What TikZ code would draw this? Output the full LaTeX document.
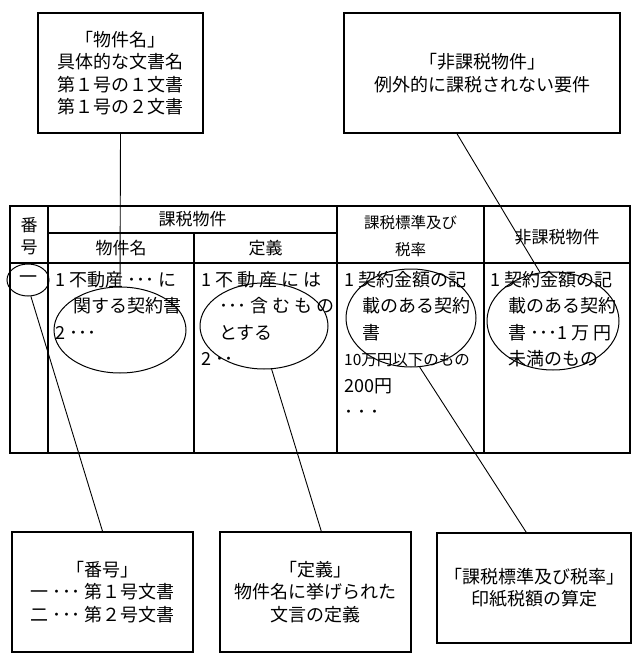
\documentclass[tikz,border=0pt]{standalone}
\usepackage{fontspec}
\setmainfont{Noto Sans CJK JP}
\usepackage{tikz}
\usetikzlibrary{shapes, calc}
\tikzstyle{NoteBox}=[rectangle,
		line width=1.6pt,
		draw=black,
		inner sep=0pt,
		align=center,
		font=\fontsize{18}{22.5}\selectfont]
\tikzstyle{Ring}=[ellipse,
		line width=1pt,
		draw=black,
		inner sep=0pt]
\tikzstyle{Cell}=[anchor=north west,
		inner sep=0pt,
		align=left,
		font=\fontsize{18}{26.5}\selectfont]
\tikzstyle{Head}=[inner sep=0pt,
		align=center,
		font=\fontsize{17}{22}\selectfont]
\tikzstyle{TabLine}=[line width=1.2pt]
\tikzstyle{Lead}=[line width=0.9pt]

\begin{document}
\begin{tikzpicture}[x=1pt,y=-1pt]
  \useasboundingbox (0,0) rectangle (640,663);

  % call-out boxes
  \node [NoteBox,minimum width=165pt,minimum height=120pt] (bukken) at (120.5,73) {「物件名」\\具体的な文書名\\第１号の１文書\\第１号の２文書};
  \node [NoteBox,minimum width=276pt,minimum height=120pt] (hikazei) at (482,73) {「非課税物件」\\例外的に課税されない要件};
  \node [NoteBox,minimum width=181pt,minimum height=120pt] (bango) at (102.5,592) {「番号」\\一 ･･･ 第１号文書\\二 ･･･ 第２号文書};
  \node [NoteBox,minimum width=191pt,minimum height=120pt] (teigi) at (315.5,592) {「定義」\\物件名に挙げられた\\文言の定義};
  \node [NoteBox,minimum width=194pt,minimum height=110pt] (hyojun) at (534,588) {「課税標準及び税率」\\印紙税額の算定};

  % table
  \draw [TabLine] (10,206) rectangle (630,453);
  \draw [TabLine] (48,206) -- (48,453);
  \draw [TabLine] (337,206) -- (337,453);
  \draw [TabLine] (484,206) -- (484,453);
  \draw [TabLine] (194,233) -- (194,453);
  \draw [TabLine] (48,233) -- (337,233);
  \draw [TabLine] (10,263) -- (630,263);

  % header row
  \node [Head] (hBango) at (29,236) {番\\号};
  \node [Head] (hKazei) at (192.5,219) {課税物件};
  \node [Head] (hName) at (121,248) {物件名};
  \node [Head] (hTeigi) at (265.5,248) {定義};
  \node [Head,font=\fontsize{15.5}{27}\selectfont] (hHyojun) at (410.5,236) {課税標準及び\\税率};
  \node [Head] (hHika) at (557,237) {非課税物件};

  % body row
  \node [Head,font=\fontsize{18}{22}\selectfont] (ichi) at (28,280) {一};
  \node [Cell] (cName) at (55,271) {1 不動産 ･･･ に\\\hspace*{1em}関する契約書\\2 ･･･};
  \node [Cell] (cTeigi) at (201,271) {1 不 動 産 に は\\\hspace*{1em}･･･ 含 む も の\\\hspace*{1em}とする\\2 ･･};
  \node [Cell] (cHyojun) at (344,271) {1 契約金額の記\\\hspace*{1em}載のある契約\\\hspace*{1em}書\\{\fontsize{15.5}{26}\selectfont 10万円以下のもの}\\200円\\･ ･ ･};
  \node [Cell] (cHika) at (490,271) {1 契約金額の記\\\hspace*{1em}載のある契約\\\hspace*{1em}書 ･･･1 万 円\\\hspace*{1em}未満のもの};

  % rings
  \node [Ring,minimum width=42pt,minimum height=32pt] (r1) at (28,280) {};
  \node [Ring,minimum width=132pt,minimum height=86pt] (r2) at (120,330) {};
  \node [Ring,minimum width=128pt,minimum height=86pt] (r3) at (264,326) {};
  \node [Ring,minimum width=130pt,minimum height=98pt] (r4) at (411,318) {};
  \node [Ring,minimum width=132pt,minimum height=98pt] (r5) at (553,321) {};

  % leader lines
  \draw [Lead] (bukken.south) -- (r2.north);
  \draw [Lead] ($(hikazei.south west)!0.41!(hikazei.south east)$) -- (r5.105);
  \draw [Lead] (r1.280) -- (bango.north);
  \draw [Lead] (r3.280) -- ($(teigi.north west)!0.53!(teigi.north east)$);
  \draw [Lead] (r4.280) -- ($(hyojun.north west)!0.46!(hyojun.north east)$);

\end{tikzpicture}
\end{document}
